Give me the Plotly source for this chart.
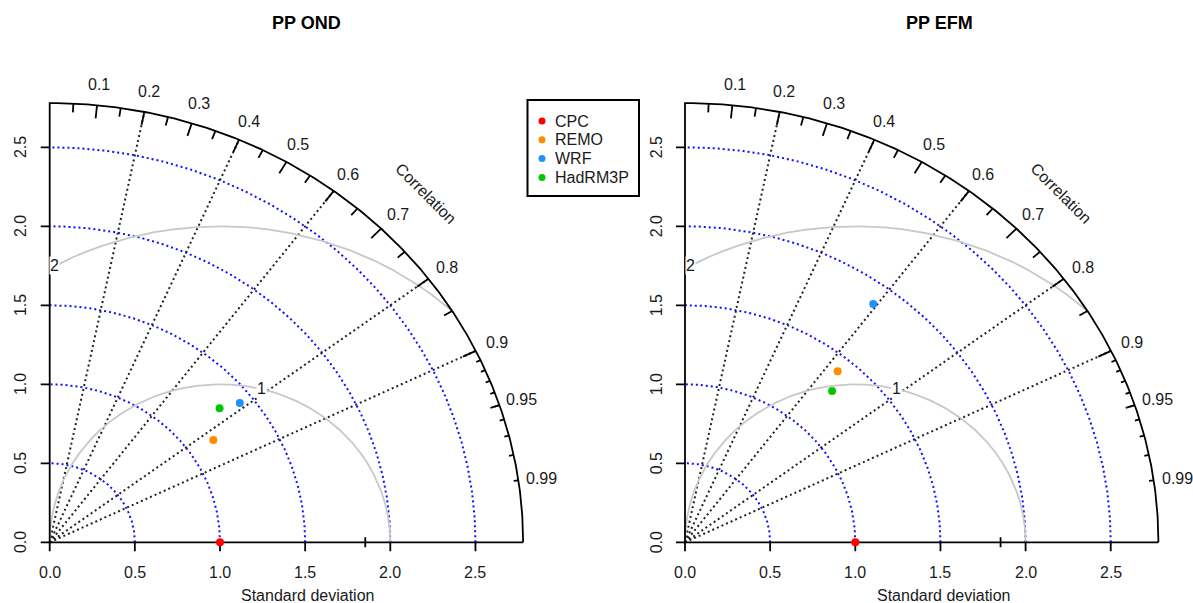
import numpy as np
import plotly.graph_objects as go

W, H = 1193, 603

# ---------------- data ----------------
models = ["CPC", "REMO", "WRF", "HadRM3P"]
colors = ["#FF0000", "#FF8C00", "#1E90FF", "#00C800"]

titles = ["PP OND", "PP EFM"]
# normalized standard deviation and correlation with CPC
ond_sd = [1.0, 1.159, 1.422, 1.309]
ond_cor = [1.0, 0.829, 0.785, 0.762]
efm_sd = [1.0, 1.405, 1.870, 1.289]
efm_cor = [1.0, 0.638, 0.591, 0.670]

max_sd = 2.78
sd_ticks = [0.0, 0.5, 1.0, 1.5, 2.0, 2.5]
sd_tick_labels = ["0.0", "0.5", "1.0", "1.5", "2.0", "2.5"]
extra_sd_mark = 1.853
sd_arcs = [0.5, 1.0, 1.5, 2.0, 2.5]
cor_lines = [0.2, 0.4, 0.6, 0.8, 0.9]
cor_big = [0.1, 0.2, 0.3, 0.4, 0.5, 0.6, 0.7, 0.8, 0.9]
cor_med = [0.05, 0.15, 0.25, 0.35, 0.45, 0.55, 0.65, 0.75, 0.85, 0.95]
cor_small = [0.91, 0.92, 0.93, 0.94, 0.95, 0.96, 0.97, 0.98, 0.99]
cor_labels = [0.1, 0.2, 0.3, 0.4, 0.5, 0.6, 0.7, 0.8, 0.9, 0.95, 0.99]
rms_arcs = [1, 2]
rms_label_angles = [76.0, 119.0]

# ---------------- geometry ----------------
FONT = "Liberation Sans, Arial, sans-serif"
FS = 16
TXT = "#1a1a1a"
origin_px = [49.7, 685.0]
origin_py = 542.3
sx, sy = 170.3, 158.0
xr = [-0.27, 2.95]
yr = [-0.36, 2.95]
title_px = [306.7, 940.0]
title_py = 23.0

fig = go.Figure()
annotations = []
shapes = []
layout_axes = {}


def seg_trace(segs, color, width, dash, xa, ya):
    xs, ys = [], []
    for (x0, y0, x1, y1) in segs:
        xs += [x0, x1, None]
        ys += [y0, y1, None]
    return go.Scatter(x=xs, y=ys, mode="lines", line=dict(color=color, width=width, dash=dash),
                      xaxis=xa, yaxis=ya, hoverinfo="skip", showlegend=False)


for p, (sds, cors) in enumerate([(ond_sd, ond_cor), (efm_sd, efm_cor)]):
    n = "" if p == 0 else str(p + 1)
    xa, ya = "x" + n, "y" + n
    ox = origin_px[p]
    xd = [(ox + xr[0] * sx) / W, (ox + xr[1] * sx) / W]
    yd = [1 - (origin_py - yr[0] * sy) / H, 1 - (origin_py - yr[1] * sy) / H]
    common = dict(showgrid=False, zeroline=False, showticklabels=False, ticks="", showline=False, fixedrange=True)
    layout_axes["xaxis" + n] = dict(domain=xd, range=xr, anchor=ya, **common)
    layout_axes["yaxis" + n] = dict(domain=yd, range=yr, anchor=xa, **common)

    th = np.linspace(0, np.pi / 2, 300)
    # sd arcs (blue dotted)
    for r in sd_arcs:
        fig.add_trace(go.Scatter(x=r * np.cos(th), y=r * np.sin(th), mode="lines",
                                 line=dict(color="#1010FF", width=2, dash="2px,3px"),
                                 xaxis=xa, yaxis=ya, hoverinfo="skip", showlegend=False))
    # correlation radial lines
    segs = [(0, 0, max_sd * c, max_sd * np.sqrt(1 - c * c)) for c in cor_lines]
    fig.add_trace(seg_trace(segs, "#222222", 2, "2px,3px", xa, ya))
    # centered RMS arcs (gray)
    for r, ang in zip(rms_arcs, rms_label_angles):
        ph = np.linspace(0, np.pi, 4000)
        cx = 1 + r * np.cos(ph)
        cy = r * np.sin(ph)
        m = (cx >= 0) & (cx ** 2 + cy ** 2 <= max_sd ** 2)
        fig.add_trace(go.Scatter(x=cx[m], y=cy[m], mode="lines", line=dict(color="#C8C8C8", width=1.8),
                                 xaxis=xa, yaxis=ya, hoverinfo="skip", showlegend=False))
        a = np.radians(ang)
        annotations.append(dict(x=1 + r * np.cos(a), y=r * np.sin(a), xref=xa, yref=ya, text=str(r),
                                showarrow=False, font=dict(family=FONT, size=FS, color=TXT),
                                bgcolor="white", borderpad=0, xanchor="center", yanchor="middle"))
    # outer arc and axes
    fig.add_trace(go.Scatter(x=np.concatenate([max_sd * np.cos(th), [0, 0, max_sd]]),
                             y=np.concatenate([max_sd * np.sin(th), [max_sd, 0, 0]]),
                             mode="lines", line=dict(color="black", width=1.8),
                             xaxis=xa, yaxis=ya, hoverinfo="skip", showlegend=False))
    # ticks on outer arc
    segs = []
    for lst, f in [(cor_big, 0.97), (cor_med, 0.98), (cor_small, 0.99)]:
        for c in lst:
            s = np.sqrt(1 - c * c)
            segs.append((max_sd * c, max_sd * s, f * max_sd * c, f * max_sd * s))
    fig.add_trace(seg_trace(segs, "black", 1.8, "solid", xa, ya))
    # axis ticks
    tx = 9 / sy
    ty = 9 / sx
    segs = [(v, 0, v, -tx) for v in sd_ticks] + [(0, v, -ty, v) for v in sd_ticks]
    segs.append((extra_sd_mark, 5 / sy, extra_sd_mark, -5 / sy))
    fig.add_trace(seg_trace(segs, "black", 1.8, "solid", xa, ya))
    for v, lab in zip(sd_ticks, sd_tick_labels):
        annotations.append(dict(x=v, y=-0.19, xref=xa, yref=ya, text=lab, showarrow=False,
                                font=dict(family=FONT, size=FS, color=TXT), xanchor="center", yanchor="middle"))
        annotations.append(dict(x=-0.17, y=v, xref=xa, yref=ya, text=lab, showarrow=False, textangle=-90,
                                font=dict(family=FONT, size=FS, color=TXT), xanchor="center", yanchor="middle"))
    for c in cor_labels:
        s = np.sqrt(1 - c * c)
        annotations.append(dict(x=1.05 * max_sd * c, y=1.05 * max_sd * s - 0.01, xref=xa, yref=ya, text=str(c),
                                showarrow=False, font=dict(family=FONT, size=FS, color=TXT),
                                xanchor="center", yanchor="middle"))
    annotations.append(dict(x=1.124 * max_sd * np.cos(np.pi / 4), y=1.124 * max_sd * np.sin(np.pi / 4),
                            xref=xa, yref=ya, text="Correlation", textangle=45, showarrow=False,
                            font=dict(family=FONT, size=FS, color=TXT), xanchor="center", yanchor="middle"))
    annotations.append(dict(x=1.515, y=-0.334, xref=xa, yref=ya, text="Standard deviation", showarrow=False,
                            font=dict(family=FONT, size=FS, color=TXT), xanchor="center", yanchor="middle"))
    annotations.append(dict(x=title_px[p] / W, y=1 - title_py / H, xref="paper", yref="paper",
                            text="<b>" + titles[p] + "</b>", showarrow=False,
                            font=dict(family=FONT, size=18, color="black"), xanchor="center", yanchor="middle"))
    # model points
    sds = np.array(sds)
    cors = np.array(cors)
    fig.add_trace(go.Scatter(x=sds * cors, y=sds * np.sqrt(1 - cors ** 2), mode="markers",
                             marker=dict(color=colors, size=8, line=dict(width=0)), cliponaxis=False,
                             xaxis=xa, yaxis=ya, text=models, hoverinfo="text", showlegend=False))

# ---------------- legend (own pixel axes) ----------------
lx0, lx1, ly0, ly1 = 527.5, 639.0, 100.0, 196.0
layout_axes["xaxis3"] = dict(domain=[lx0 / W, lx1 / W], range=[lx0, lx1], anchor="y3", visible=False, fixedrange=True)
layout_axes["yaxis3"] = dict(domain=[1 - ly1 / H, 1 - ly0 / H], range=[ly1, ly0], anchor="x3", visible=False, fixedrange=True)
row_y = [ly0 + 21 + 18.8 * i for i in range(len(models))]
fig.add_trace(go.Scatter(x=[lx0 + 14.5] * len(models), y=row_y, mode="markers",
                         marker=dict(color=colors, size=7), xaxis="x3", yaxis="y3",
                         hoverinfo="skip", showlegend=False, cliponaxis=False))
for m, yv in zip(models, row_y):
    annotations.append(dict(x=lx0 + 25.5, y=yv, xref="x3", yref="y3", text=m, showarrow=False,
                            font=dict(family=FONT, size=FS, color=TXT), xanchor="left", yanchor="middle"))
shapes.append(dict(type="rect", xref="paper", yref="paper", x0=lx0 / W, x1=lx1 / W,
                   y0=1 - ly1 / H, y1=1 - ly0 / H, line=dict(color="black", width=2)))

fig.update_layout(width=W, height=H, margin=dict(l=0, r=0, t=0, b=0), paper_bgcolor="white",
                  plot_bgcolor="rgba(0,0,0,0)", showlegend=False, annotations=annotations, shapes=shapes,
                  hovermode="closest", **layout_axes)
fig.write_html("out.html")
